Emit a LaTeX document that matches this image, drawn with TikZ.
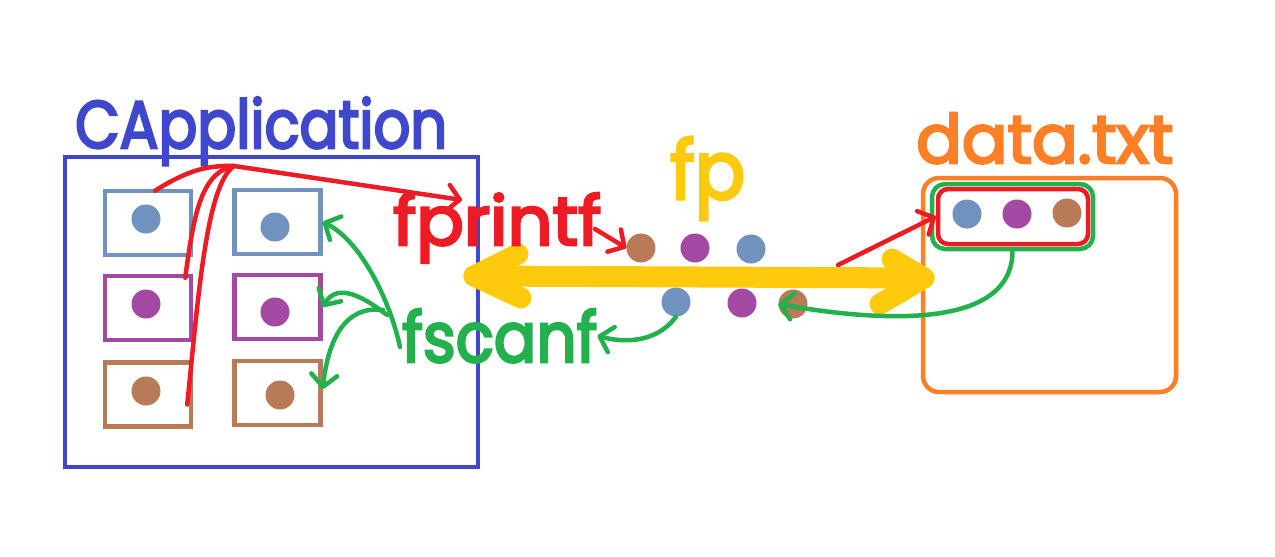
\documentclass[tikz,border=0pt]{standalone}
\usepackage{fontspec}
\usetikzlibrary{arrows.meta}
\newfontfamily\hand{Poppins}[FakeBold=3.8]
\definecolor{appblue}{HTML}{3F48CC}
\definecolor{steel}{HTML}{7092BE}
\definecolor{plum}{HTML}{A349A4}
\definecolor{tan}{HTML}{B97A57}
\definecolor{wred}{HTML}{ED1C24}
\definecolor{wgreen}{HTML}{22B14C}
\definecolor{wyellow}{HTML}{FFC90E}
\definecolor{worange}{HTML}{FF7F27}
\tikzset{
  dotnode/.style={circle,inner sep=0pt,minimum size=29pt},
  cellbox/.style={draw,line width=4.5pt,minimum width=86pt,minimum height=64pt,inner sep=0pt},
  lbl/.style={anchor=base west,inner sep=0pt,font=\hand},
  pen/.style={line width=4.5pt,line cap=round,line join=round},
  barb/.style={pen,-{Straight Barb[length=12pt,width=26pt,round]}},
  yarrow/.style={wyellow,line width=21pt,line cap=round,line join=round},
}
\begin{document}
\begin{tikzpicture}[x=1pt,y=-1pt]
\useasboundingbox (0,0) rectangle (1275,557);
\fill[white] (0,0) rectangle (1275,557);

% titles
\node[lbl,text=appblue] (tapp) at (75,148) {\resizebox{372pt}{51pt}{CApplication}};
\node[lbl,text=wyellow] (tfp) at (670,199) {\resizebox{75pt}{62pt}{fp}};
\node[lbl,text=worange] (tdata) at (916,163) {\resizebox{257pt}{50pt}{data.txt}};

% application box
\node[draw=appblue,line width=4.5pt,minimum width=413pt,minimum height=310pt,inner sep=0pt] (app) at (271.5,312) {};

% cells
\node[cellbox,draw=steel] (L1) at (148,223) {};
\node[cellbox,draw=plum] (L2) at (148,308) {};
\node[cellbox,draw=tan] (L3) at (148,394.5) {};
\node[cellbox,draw=steel] (R1) at (277.5,222) {};
\node[cellbox,draw=plum] (R2) at (277.5,307) {};
\node[cellbox,draw=tan] (R3) at (277.5,393) {};
\node[dotnode,fill=steel] (dL1) at (146,219) {};
\node[dotnode,fill=plum] (dL2) at (146,304) {};
\node[dotnode,fill=tan] (dL3) at (146,391) {};
\node[dotnode,fill=steel] (dR1) at (275,227) {};
\node[dotnode,fill=plum] (dR2) at (275,312) {};
\node[dotnode,fill=tan] (dR3) at (280,395) {};

% file box
\node[draw=worange,line width=4.5pt,rounded corners=16pt,minimum width=253pt,minimum height=214pt,inner sep=0pt] (file) at (1049.5,285) {};
\node[draw=wgreen,line width=4.5pt,rounded corners=13pt,minimum width=161pt,minimum height=65pt,inner sep=0pt] (rec) at (1012.5,216.5) {};
\node[draw=wred,line width=4.5pt,rounded corners=10pt,minimum width=150pt,minimum height=55pt,inner sep=0pt] (recr) at (1013,216.5) {};
\node[dotnode,fill=steel] (f1) at (967,214) {};
\node[dotnode,fill=plum] (f2) at (1017,214) {};
\node[dotnode,fill=tan] (f3) at (1067,213) {};

% stream dots
\node[dotnode,fill=tan] (o1) at (641,248) {};
\node[dotnode,fill=plum] (o2) at (695,248) {};
\node[dotnode,fill=steel] (o3) at (751,249) {};
\node[dotnode,fill=steel] (i1) at (676,302) {};
\node[dotnode,fill=plum] (i2) at (742,303) {};
\node[dotnode,fill=tan] (i3) at (793,304) {};

% yellow double arrow
\coordinate (yl) at (474,276);
\coordinate (yr) at (924,278);
\draw[yarrow] (yl) -- (yr);
\draw[yarrow] (518,254) -- (yl) -- (521,298);
\draw[yarrow] (892,259) -- (yr) -- (880,304);

% function labels
\node[lbl,text=wred] (tpr) at (393,245) {\resizebox{208pt}{52pt}{fprintf}};
\node[lbl,text=wgreen] (tsc) at (402,362) {\resizebox{195pt}{53pt}{fscanf}};

% red (write) strokes
\coordinate (rc) at (234,166);
\coordinate (rtip) at (462,200);
\coordinate (pr) at (595,229);
\draw[pen,wred] (L1.north) ++(7,2) .. controls (185,172) and (205,165) .. (rc);
\draw[pen,wred] (L2.north east) ++(-8,4) .. controls (193,220) and (200,172) .. (rc);
\draw[pen,wred] (L3.east) ++(-6,10) .. controls (198,300) and (206,185) .. (rc);
\draw[barb,wred] (rc) -- (rtip);
\draw[barb,wred] (pr) -- (o1.west);
\draw[barb,wred] (838,265) -- (recr.west);

% green (read) strokes
\draw[barb,wgreen] (rec.south) .. controls (1012,330) and (880,322) .. (i3.west);
\draw[barb,wgreen] (i1.south) .. controls (655,345) and (620,342) .. (tsc.east);
\draw[barb,wgreen] (400,347) .. controls (390,300) and (360,240) .. (R1.east);
\draw[barb,wgreen] (387,315) .. controls (355,290) and (335,286) .. (R2.east);
\draw[barb,wgreen] (383,310) .. controls (345,305) and (328,340) .. ([yshift=4pt]R3.east);
\end{tikzpicture}
\end{document}
